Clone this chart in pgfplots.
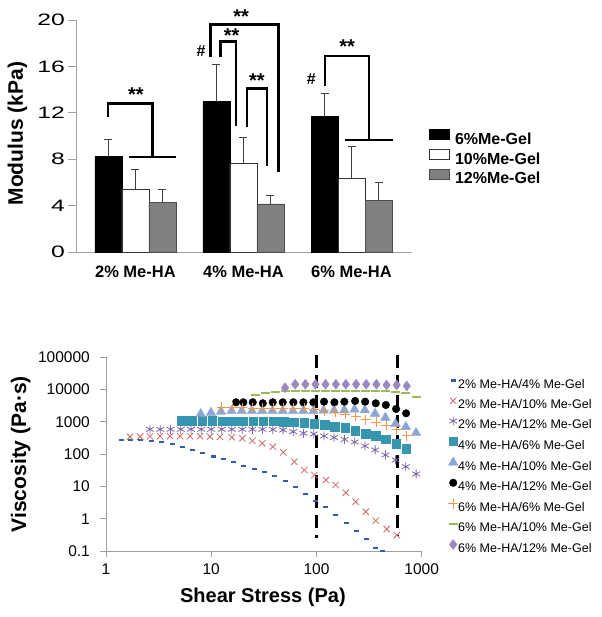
\documentclass[border=0pt]{standalone}
\usepackage{fontspec}
\setmainfont{Liberation Sans}
\usepackage{graphicx}
\usepackage{pgfplots}
\pgfplotsset{compat=1.18}

\definecolor{axgray}{RGB}{160,160,160}
\definecolor{barGray}{RGB}{128,128,128}
\definecolor{cBlue}{RGB}{50,95,170}
\definecolor{cRed}{RGB}{205,105,100}
\definecolor{cPurple}{RGB}{125,100,165}
\definecolor{cTeal}{RGB}{55,150,175}
\definecolor{cPeri}{RGB}{140,165,215}
\definecolor{cOrange}{RGB}{247,150,70}
\definecolor{cGreen}{RGB}{155,187,89}
\definecolor{cLilac}{RGB}{155,135,195}

\newcommand{\fsz}[2]{\fontsize{#1bp}{#2bp}\selectfont}
\newcommand{\sx}[1]{\scalebox{1.5}[1]{#1}}

\pgfplotsset{
  barleg/.style={legend image code/.code={\draw[##1] (0bp,0.5bp) rectangle (20bp,10.5bp);}},
  markleg/.style={legend image code/.code={\path[draw=none,fill=none] (-4bp,0bp) rectangle (4bp,9bp);
      \draw[##1] plot coordinates {(0bp,4.5bp)};}},
  errs/.style={error bars/.cd, y dir=plus, y explicit,
      error bar style={black!75, line width=0.8bp},
      error mark options={black!75, line width=0.8bp, mark size=4bp, rotate=90}},
}

\begin{document}
\begin{tikzpicture}
\useasboundingbox (0,0) rectangle (602bp,617bp);

% ---------- top: modulus bars ----------
\begin{axis}[
  at={(76bp,365bp)}, anchor=south west,
  scale only axis, width=336bp, height=232bp,
  xmin=-0.55, xmax=2.56, ymin=0, ymax=20,
  ybar=0pt, bar width=27bp,
  axis x line*=bottom, axis y line*=left,
  axis line style={axgray, line width=0.8bp},
  xtick={0,1,2},
  xticklabels={2\% Me-HA, 4\% Me-HA, 6\% Me-HA},
  x tick style={draw=none},
  xticklabel style={font=\fsz{16.5}{19}\bfseries, anchor=base, yshift=-18bp},
  ytick={0,4,8,12,16,20},
  yticklabels={\sx{0},\sx{4},\sx{8},\sx{12},\sx{16},\sx{20}},
  y tick style={axgray, line width=0.8bp},
  tick align=outside, major tick length=8bp,
  yticklabel style={font=\fsz{16.5}{19}, anchor=east, inner sep=0pt, xshift=-3bp},
  ylabel={Modulus (kPa)},
  ylabel style={font=\fsz{21}{25}\bfseries, at={(axis description cs:-0.174,0.51)}, anchor=center},
  legend style={draw=none, fill=none, at={(1.0506,0.4033)}, anchor=west,
    font=\fsz{16}{19}\bfseries, inner sep=0pt, row sep=1bp,
    nodes={inner sep=0pt, text height=12bp, text depth=3.5bp},
    /tikz/every odd column/.append style={column sep=5bp}},
  legend cell align=left,
  clip=false,
]
\addplot[fill=black, draw=black, line width=0.8bp, barleg, errs] coordinates {
  (0,8.27) +- (0,1.43)
  (1,12.95) +- (0,3.25)
  (2,11.72) +- (0,1.96)
};
\addplot[fill=white, draw=black!80, line width=0.8bp, barleg, errs] coordinates {
  (0,5.40) +- (0,1.75)
  (1,7.65) +- (0,2.20)
  (2,6.32) +- (0,2.76)
};
\addplot[fill=barGray, draw=black!70, line width=0.8bp, barleg, errs] coordinates {
  (0,4.25) +- (0,1.18)
  (1,4.14) +- (0,0.76)
  (2,4.42) +- (0,1.55)
};
\legend{6\%Me-Gel, 10\%Me-Gel, 12\%Me-Gel}

% significance brackets
\draw[black, line width=2.5bp, line join=miter]
  (axis cs:-0.255,11.66) -- (axis cs:-0.255,12.8) -- (axis cs:0.159,12.8) -- (axis cs:0.159,8.2);
\draw[black, line width=2.5bp] (axis cs:-0.057,8.2) -- (axis cs:0.375,8.2);
\draw[black, line width=2.5bp, line join=miter]
  (axis cs:0.696,16.84) -- (axis cs:0.696,19.6) -- (axis cs:1.322,19.6) -- (axis cs:1.322,6.9);
\draw[black, line width=2.5bp, line join=miter]
  (axis cs:0.789,16.84) -- (axis cs:0.789,18.13) -- (axis cs:0.93,18.13) -- (axis cs:0.93,10.86);
\draw[black, line width=2.5bp, line join=miter]
  (axis cs:1.032,10.8) -- (axis cs:1.032,14.1) -- (axis cs:1.218,14.1) -- (axis cs:1.218,7.44);
\draw[black, line width=2.5bp, line join=miter]
  (axis cs:1.755,14.3) -- (axis cs:1.755,16.9) -- (axis cs:2.162,16.9) -- (axis cs:2.162,9.66);
\draw[black, line width=2.5bp] (axis cs:1.94,9.66) -- (axis cs:2.38,9.66);

\node[font=\fsz{20}{24}\bfseries, anchor=base, inner sep=0pt] at (axis cs:0.005,12.97) {**};
\node[font=\fsz{20}{24}\bfseries, anchor=base, inner sep=0pt] at (axis cs:0.979,19.70) {**};
\node[font=\fsz{20}{24}\bfseries, anchor=base, inner sep=0pt] at (axis cs:0.891,18.02) {**};
\node[font=\fsz{20}{24}\bfseries, anchor=base, inner sep=0pt] at (axis cs:1.125,14.14) {**};
\node[font=\fsz{20}{24}\bfseries, anchor=base, inner sep=0pt] at (axis cs:1.960,17.07) {**};
\node[font=\fsz{16}{19}\bfseries, anchor=base, inner sep=0pt] at (axis cs:0.608,16.84) {\#};
\node[font=\fsz{16}{19}\bfseries, anchor=base, inner sep=0pt] at (axis cs:1.627,14.4) {\#};
\end{axis}

% ---------- bottom: viscosity vs shear stress ----------
\begin{axis}[
  at={(106bp,66bp)}, anchor=south west,
  scale only axis, width=315.7bp, height=193.7bp,
  xmode=log, ymode=log,
  xmin=1, xmax=1000, ymin=0.1, ymax=100000,
  axis x line*=bottom, axis y line*=left,
  axis line style={axgray, line width=0.8bp},
  xtick={1,10,100,1000}, xticklabels={1,10,100,1000},
  ytick={0.1,1,10,100,1000,10000,100000},
  yticklabels={0.1,1,10,100,1000,10000,100000},
  xminorticks=false, yminorticks=false,
  tick align=outside, major tick length=6bp,
  tick style={axgray, line width=0.8bp},
  xticklabel style={font=\fsz{15.5}{18}, anchor=base, yshift=-18bp},
  yticklabel style={font=\fsz{15.5}{18}, anchor=east, inner sep=0pt, xshift=-10bp},
  xlabel={Shear Stress (Pa)},
  xlabel style={font=\fsz{20}{24}\bfseries, at={(axis description cs:0.497,-0.24)}, anchor=center},
  ylabel={Viscosity (Pa·s)},
  ylabel style={font=\fsz{21}{25}\bfseries, at={(axis description cs:-0.27,0.5)}, anchor=center},
  legend style={draw=none, fill=none, at={(1.0833,0.4406)}, anchor=west,
    font=\fsz{12.5}{15}, inner sep=0pt, row sep=5bp,
    nodes={inner sep=0pt, text height=9.5bp, text depth=3bp},
    /tikz/every odd column/.append style={column sep=0bp}},
  legend cell align=left,
  clip=false,
]
% 2% Me-HA/4% Me-Gel
\addplot[only marks, markleg, mark=-, cBlue, mark size=2.5bp, line width=2.2bp] coordinates {
  (1.41,280) (1.72,275) (2.15,268) (2.72,256) (3.38,243) (4.24,206) (5.28,170)
  (6.61,135) (8.30,111) (10.4,85) (13.0,70) (16.2,56) (20.4,44) (25.5,35)
  (32.0,27.4) (39.8,20.6) (50.3,14.7) (62.6,9.8) (79.1,5.71) (98.5,3.47)
  (123,2.26) (152,1.30) (191,0.736) (239,0.417) (296,0.240) (361,0.126) (427,0.1)
};
% 2% Me-HA/10% Me-Gel
\addplot[only marks, markleg, mark=x, cRed, mark size=4.5bp, line width=0.8bp] coordinates {
  (1.69,345) (2.11,350) (2.62,355) (3.26,360) (4.06,360) (5.05,360) (6.29,360)
  (7.83,358) (9.74,352) (12.1,345) (15.7,333) (19.8,310) (24.6,261) (30.6,217)
  (38.5,170) (48.4,114) (61.6,58.4) (76.7,32.3) (95.5,22.6) (123,15.8) (152,11.1)
  (190,6.40) (236,3.37) (294,1.65) (366,0.87) (466,0.48) (580,0.31)
};
% 2% Me-HA/12% Me-Gel
\addplot[only marks, markleg, mark=asterisk, cPurple, mark size=4.5bp, line width=0.8bp] coordinates {
  (2.62,589) (3.28,589) (4.10,589) (5.13,589) (6.41,589) (8.04,589) (10.0,589)
  (12.6,589) (15.7,589) (19.7,589) (24.6,589) (30.7,589) (38.5,580) (48.2,560)
  (60.1,497) (75.2,443) (94.2,421) (118,366) (147,328) (185,285) (231,238)
  (289,179) (361,135) (452,94.2) (565,65.9) (706,40.9) (885,24.3)
};
% 4% Me-HA/6% Me-Gel
\addplot[only marks, markleg, mark=square*, cTeal, mark size=4.3bp] coordinates {
  (5.24,1089) (6.56,1070) (8.19,1070) (10.2,1070) (12.8,1060) (16.0,1060)
  (20.0,1050) (25.0,1050) (31.3,1050) (39.1,1040) (48.9,1028) (61.1,971)
  (76.4,944) (95.5,879) (119,800) (149,709) (187,646) (233,533) (292,437)
  (365,366) (456,289) (570,209) (713,145)
};
% 4% Me-HA/10% Me-Gel
\addplot[only marks, markleg, mark=triangle*, cPeri, mark size=5.5bp] coordinates {
  (7.94,1754) (9.94,1924) (12.4,2065) (15.6,2173) (19.5,2173) (24.4,2173)
  (30.5,2173) (38.2,2173) (47.8,2173) (59.8,2173) (74.9,2173) (93.7,2173)
  (117,2250) (147,2250) (184,2300) (230,2416) (288,2300) (360,1800)
  (451,1350) (564,870) (706,700) (884,453)
};
% 4% Me-HA/12% Me-Gel
\addplot[only marks, markleg, mark=*, black, mark size=3.8bp] coordinates {
  (17.2,4043) (20.2,4043) (24.8,4043) (30.9,3765) (38.4,4043) (47.8,4043)
  (60.3,4043) (75.1,4043) (93.5,4043) (118,4217) (148,4043) (184,4217)
  (233,4436) (290,4217) (366,3765) (456,3334) (571,2506) (711,1844)
};
% 6% Me-HA/6% Me-Gel
\addplot[only marks, markleg, mark=+, cOrange, mark size=5bp, line width=1bp] coordinates {
  (12.6,2830) (15.8,2830) (19.7,2692) (24.7,2636) (31.0,2636) (38.7,2636)
  (48.5,2636) (60.8,2636) (76.2,2636) (95.3,2335) (119,2173) (150,1954)
  (187,1694) (235,1468) (294,1143) (368,957) (461,773) (577,581) (722,378)
};
% 6% Me-HA/10% Me-Gel
\addplot[only marks, markleg, mark=-, cGreen, mark size=4.5bp, line width=2bp] coordinates {
  (26.1,6563) (32.5,7674) (40.5,8610) (50.5,8800) (62.9,8800) (78.4,8800)
  (97.7,8800) (122,8800) (152,8800) (189,8800) (236,8800) (294,8800)
  (366,8800) (457,8800) (569,8610) (709,8017) (884,6029)
};
% 6% Me-HA/12% Me-Gel
\addplot[only marks, markleg, mark=diamond*, cLilac, mark size=5bp] coordinates {
  (50.3,11460) (62.8,14590) (78.4,14590) (97.9,14590) (122,14590) (153,14590)
  (190,14590) (238,14590) (297,14590) (371,14590) (463,13870) (578,13870)
  (721,12920)
};
\legend{2\% Me-HA/4\% Me-Gel, 2\% Me-HA/10\% Me-Gel, 2\% Me-HA/12\% Me-Gel,
  4\% Me-HA/6\% Me-Gel, 4\% Me-HA/10\% Me-Gel, 4\% Me-HA/12\% Me-Gel,
  6\% Me-HA/6\% Me-Gel, 6\% Me-HA/10\% Me-Gel, 6\% Me-HA/12\% Me-Gel}

% dashed guide lines
\addplot[forget plot, black, line width=3bp, dash pattern=on 13bp off 7bp] coordinates {(100,117000) (100,0.25)};
\addplot[forget plot, black, line width=3bp, dash pattern=on 13bp off 7bp] coordinates {(588,117000) (588,0.31)};
\end{axis}
\end{tikzpicture}
\end{document}
